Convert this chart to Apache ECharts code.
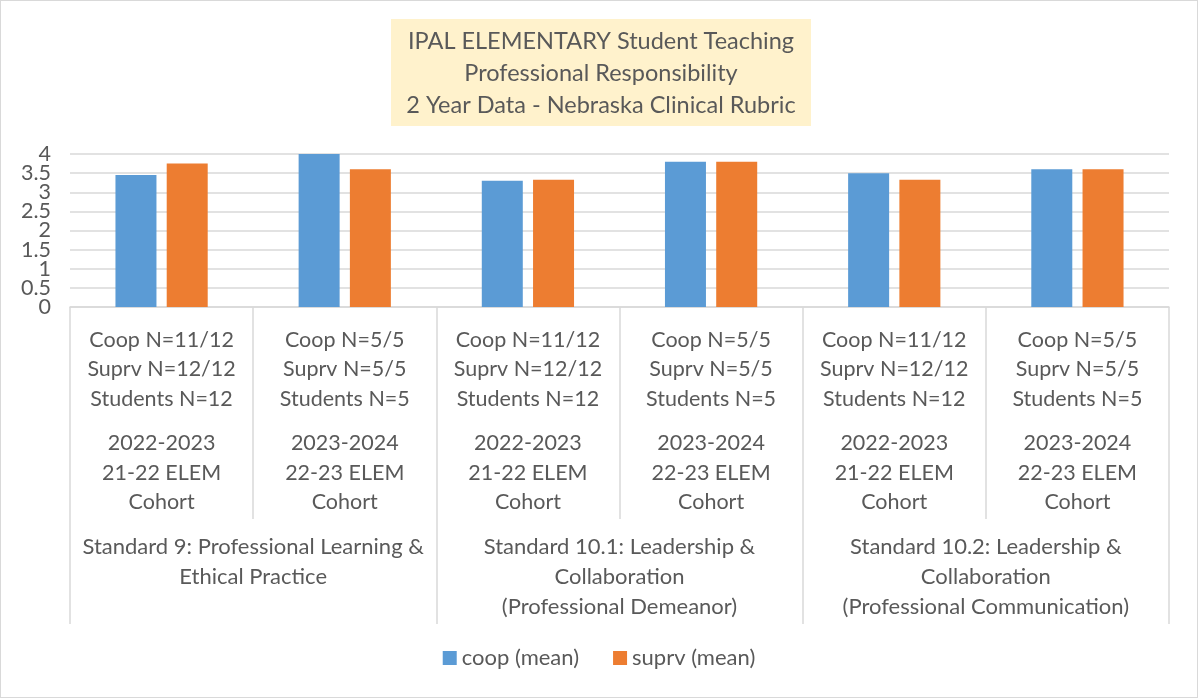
<!DOCTYPE html>
<html>
<head>
<meta charset="utf-8">
<script src="https://cdn.jsdelivr.net/npm/echarts@6/dist/echarts.min.js"></script>
<style>
  html, body { margin: 0; padding: 0; background: #fff; }
  #main { width: 1198px; height: 698px; box-sizing: border-box; border: 1px solid #d9d9d9; }
</style>
</head>
<body>
<div id="main"></div>
<script>
// data
const cohorts = [
    ['Coop N=11/12', 'Suprv N=12/12', 'Students N=12', '2022-2023', '21-22 ELEM', 'Cohort'],
    ['Coop N=5/5', 'Suprv N=5/5', 'Students N=5', '2023-2024', '22-23 ELEM', 'Cohort'],
    ['Coop N=11/12', 'Suprv N=12/12', 'Students N=12', '2022-2023', '21-22 ELEM', 'Cohort'],
    ['Coop N=5/5', 'Suprv N=5/5', 'Students N=5', '2023-2024', '22-23 ELEM', 'Cohort'],
    ['Coop N=11/12', 'Suprv N=12/12', 'Students N=12', '2022-2023', '21-22 ELEM', 'Cohort'],
    ['Coop N=5/5', 'Suprv N=5/5', 'Students N=5', '2023-2024', '22-23 ELEM', 'Cohort']
]
const standards = [
    'Standard 9: Professional Learning &\nEthical Practice',
    'Standard 10.1: Leadership &\nCollaboration\n(Professional Demeanor)',
    'Standard 10.2: Leadership &\nCollaboration\n(Professional Communication)'
]
const coopMean = [3.45, 4.0, 3.3, 3.8, 3.5, 3.6]
const suprvMean = [3.75, 3.6, 3.33, 3.8, 3.33, 3.6]
const titleLines = [
    'IPAL ELEMENTARY Student Teaching',
    'Professional Responsibility',
    '2 Year Data - Nebraska Clinical Rubric'
]

const FONT = 'Lato'
const TXT = '#595959'
const LINE = '#d9d9d9'

const chart = echarts.init(document.getElementById('main'))

const catKeys = cohorts.map((c, i) => 'c' + i)

const yLabel = {
    margin: 19,
    fontSize: 21.5,
    color: TXT,
    fontFamily: FONT
}

const option = {
    animation: false,
    textStyle: { fontFamily: FONT, color: TXT },
    graphic: [
        {
            type: 'rect',
            shape: { x: 390, y: 18, width: 420, height: 107 },
            style: { fill: '#fff2cc' }
        },
        {
            type: 'text',
            x: 600,
            y: 72,
            style: {
                text: titleLines.join('\n'),
                align: 'center',
                verticalAlign: 'middle',
                fontFamily: FONT,
                fontSize: 23.5,
                lineHeight: 32,
                fill: TXT
            }
        }
    ],
    legend: {
        bottom: 23,
        left: 'center',
        itemWidth: 14,
        itemHeight: 14,
        itemGap: 34,
        icon: 'rect',
        textStyle: { fontSize: 22, color: TXT, fontFamily: FONT },
        data: ['coop (mean)', 'suprv (mean)']
    },
    grid: {
        left: 69,
        right: 28,
        top: 153,
        bottom: 390,
        containLabel: false
    },
    xAxis: [
        {
            type: 'category',
            data: catKeys,
            axisLine: { lineStyle: { color: LINE, width: 1.5 } },
            axisTick: { show: true, interval: 0, length: 212, lineStyle: { color: LINE, width: 1.5 } },
            axisLabel: {
                interval: 0,
                margin: 18,
                formatter: (v) => {
                    const c = cohorts[catKeys.indexOf(v)]
                    return c.slice(0, 3).map(s => '{a|' + s + '}').join('\n') +
                        '\n{s| }\n' + c.slice(3).map(s => '{a|' + s + '}').join('\n')
                },
                rich: {
                    a: { fontSize: 21.5, lineHeight: 29.5, color: TXT, fontFamily: FONT, align: 'center' },
                    s: { fontSize: 10, lineHeight: 15, color: TXT }
                }
            }
        },
        {
            type: 'category',
            data: standards,
            position: 'bottom',
            axisLine: { show: false },
            axisTick: { show: true, interval: 0, length: 317, lineStyle: { color: LINE, width: 1.5 } },
            axisLabel: {
                interval: 0,
                margin: 225,
                fontSize: 22,
                lineHeight: 30,
                color: TXT,
                fontFamily: FONT
            }
        }
    ],
    yAxis: [
        {
            // gridlines + inner labels 0.5 .. 3.5
            type: 'value',
            position: 'left',
            min: 0,
            max: 4,
            interval: 0.5,
            axisLine: { show: false },
            axisTick: { show: false },
            axisLabel: Object.assign({ showMinLabel: false, showMaxLabel: false }, yLabel),
            splitLine: { lineStyle: { color: LINE, width: 1.5 } }
        },
        {
            // end labels 0 and 4
            type: 'value',
            position: 'left',
            min: 0,
            max: 4,
            interval: 4,
            axisLine: { show: false },
            axisTick: { show: false },
            axisLabel: Object.assign({ showMinLabel: true, showMaxLabel: true }, yLabel),
            splitLine: { show: false }
        }
    ],
    series: [
        {
            name: 'coop (mean)',
            type: 'bar',
            xAxisIndex: 0,
            yAxisIndex: 0,
            data: coopMean,
            barWidth: 41,
            barGap: '25%',
            itemStyle: { color: '#5b9bd5' }
        },
        {
            name: 'suprv (mean)',
            type: 'bar',
            xAxisIndex: 0,
            yAxisIndex: 0,
            data: suprvMean,
            barWidth: 41,
            barGap: '25%',
            itemStyle: { color: '#ed7d31' }
        }
    ]
}

chart.setOption(option)
</script>
</body>
</html>
